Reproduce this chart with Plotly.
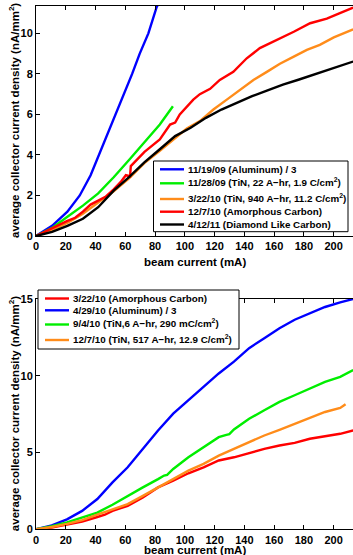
import plotly.graph_objects as go

# ---------------- top chart data ----------------
al1_x = [0, 10.8, 21.1, 29.4, 36.7, 42.3, 48.0, 53.2, 58.9, 64.6, 69.7, 75.5, 81.1, 83.2]
al1_y = [0, 0.5, 1.2, 2.0, 3.0, 4.0, 5.0, 6.0, 7.0, 8.0, 9.0, 10.0, 11.3, 11.6]

tin22_x = [0, 10.8, 21.1, 31.5, 41.8, 52.2, 62.5, 72.8, 83.2, 92.0]
tin22_y = [0, 0.4, 0.95, 1.5, 2.1, 2.9, 3.75, 4.6, 5.5, 6.4]

tin940_x = [0, 10.8, 21.1, 31.5, 41.8, 52.2, 62.5, 72.8, 83.2, 93.5, 101.3, 110.1, 119.2,
            128.2, 137.0, 146.1, 155.1, 163.9, 173.2, 182.0, 190.7, 200.1, 213.1]
tin940_y = [0, 0.3, 0.65, 1.1, 1.65, 2.2, 2.85, 3.6, 4.2, 4.8, 5.3, 5.67, 6.24,
            6.73, 7.2, 7.7, 8.1, 8.5, 8.85, 9.18, 9.43, 9.8, 10.2]

amc1_x = [0, 10.8, 21.1, 26.3, 31.5, 36.7, 41.8, 47.0, 52.2, 57.3, 60.4, 63.2, 63.7, 72.9,
          83.2, 90.1, 93.5, 96.6, 105.7, 110.1, 117.0, 123.5, 132.6, 141.6, 150.4, 161.8,
          173.2, 184.2, 195.4, 204.2, 213.1]
amc1_y = [0, 0.4, 0.75, 0.9, 1.2, 1.55, 1.75, 1.95, 2.3, 2.7, 3.0, 2.95, 3.45, 4.15,
          4.77, 5.5, 5.6, 6.0, 6.73, 7.0, 7.26, 7.7, 8.1, 8.77, 9.27, 9.67,
          10.08, 10.5, 10.73, 11.0, 11.27]

dlc_x = [0, 10.8, 21.1, 31.5, 41.8, 52.2, 62.5, 72.8, 83.2, 93.5, 103.9, 114.2, 124.6,
         134.9, 145.2, 155.6, 165.9, 176.3, 186.6, 197.0, 207.3, 213.1]
dlc_y = [0, 0.2, 0.5, 0.85, 1.42, 2.24, 2.9, 3.63, 4.28, 4.93, 5.34, 5.83, 6.24,
         6.57, 6.9, 7.19, 7.47, 7.71, 7.96, 8.2, 8.45, 8.61]

# ---------------- bottom chart data ----------------
amc2_x = [0, 10.6, 20.8, 31.0, 41.2, 46.3, 51.4, 61.6, 71.8, 82.0, 92.2, 102.4, 112.6,
          122.8, 133.0, 143.2, 153.4, 163.6, 173.8, 184.0, 194.2, 204.4, 213.1]
amc2_y = [0, 0.12, 0.3, 0.5, 0.8, 0.95, 1.2, 1.53, 2.07, 2.73, 3.17, 3.65, 4.04,
          4.48, 4.69, 4.98, 5.24, 5.46, 5.63, 5.9, 6.05, 6.22, 6.44]

al2_x = [0, 10.6, 20.8, 31.0, 41.2, 51.4, 61.6, 71.8, 82.0, 92.2, 102.4, 112.6, 122.8,
         133.0, 143.2, 153.4, 163.6, 173.8, 184.0, 194.2, 204.4, 213.1]
al2_y = [0, 0.25, 0.65, 1.2, 1.97, 3.06, 4.04, 5.24, 6.44, 7.53, 8.4, 9.28, 10.15,
         10.92, 11.8, 12.45, 13.1, 13.65, 14.08, 14.48, 14.78, 15.0]

tin6_x = [0, 10.6, 20.8, 31.0, 41.2, 51.4, 61.6, 71.8, 82.0, 86.1, 88.1, 92.2, 102.4,
          112.6, 122.8, 127.9, 129.9, 133.0, 143.2, 153.4, 163.6, 173.8, 184.0, 194.2,
          204.4, 213.1]
tin6_y = [0, 0.2, 0.45, 0.75, 1.09, 1.6, 2.18, 2.73, 3.27, 3.5, 3.55, 3.93, 4.69,
          5.35, 6.0, 6.15, 6.2, 6.5, 7.2, 7.75, 8.3, 8.73, 9.17, 9.6,
          9.93, 10.37]

tin517_x = [0, 10.6, 20.8, 31.0, 41.2, 51.4, 61.6, 71.8, 82.0, 92.2, 102.4, 112.6, 122.8,
            133.0, 143.2, 153.4, 163.6, 173.8, 184.0, 194.2, 204.4, 208.0]
tin517_y = [0, 0.15, 0.35, 0.6, 0.95, 1.3, 1.64, 2.18, 2.73, 3.27, 3.82, 4.26, 4.8,
            5.24, 5.68, 6.11, 6.48, 6.88, 7.27, 7.64, 7.9, 8.14]

top_names = ["11/19/09 (Aluminum) / 3",
             "11/28/09 (TiN, 22 A\u2212hr, 1.9 C/cm<sup>2</sup>)",
             "3/22/10 (TiN, 940 A\u2212hr, 11.2 C/cm<sup>2</sup>)",
             "12/7/10 (Amorphous Carbon)",
             "4/12/11 (Diamond Like Carbon)"]
bot_names = ["3/22/10 (Amorphous Carbon)",
             "4/29/10 (Aluminum) / 3",
             "9/4/10 (TiN,6 A\u2212hr, 290 mC/cm<sup>2</sup>)",
             "12/7/10 (TiN, 517 A\u2212hr, 12.9 C/cm<sup>2</sup>)"]

x_ticks = [0, 20, 40, 60, 80, 100, 120, 140, 160, 180, 200]
top_yticks = [0, 2, 4, 6, 8, 10]
bot_yticks = [0, 5, 10, 15]
x_title = "beam current (mA)"
y_title = "average collector current density (nA/mm<sup>2</sup>)"

BLUE, GREEN, ORANGE, RED, BLACK = "#0000ff", "#00ee00", "#ff8c1a", "#ff0000", "#000000"
LW = 2.4
W, H = 353, 555

fig = go.Figure()
top_series = [(al1_x, al1_y, BLUE), (tin22_x, tin22_y, GREEN), (tin940_x, tin940_y, ORANGE),
              (amc1_x, amc1_y, RED), (dlc_x, dlc_y, BLACK)]
for (xs, ys, c), n in zip(top_series, top_names):
    fig.add_trace(go.Scatter(x=xs, y=ys, mode="lines", name=n, line=dict(color=c, width=LW),
                             xaxis="x", yaxis="y", showlegend=False, hoverinfo="skip"))
bot_series = [(amc2_x, amc2_y, RED), (al2_x, al2_y, BLUE), (tin6_x, tin6_y, GREEN),
              (tin517_x, tin517_y, ORANGE)]
for (xs, ys, c), n in zip(bot_series, bot_names):
    fig.add_trace(go.Scatter(x=xs, y=ys, mode="lines", name=n, line=dict(color=c, width=LW),
                             xaxis="x2", yaxis="y2", showlegend=False, hoverinfo="skip"))

FONT = "Liberation Sans, Arial, sans-serif"
tickfont = dict(family=FONT, size=11, color="black", weight="bold")
titlefont = dict(family=FONT, size=11.5, color="black", weight="bold")
legfont = dict(family=FONT, size=9.8, color="black", weight="bold")

XD = [36 / W, 1.0]
TOPD = [1 - 236 / H, 1 - 6 / H]
BOTD = [1 - 529.3 / H, 1 - 299 / H]

def px(x):
    return x / W

def py(y):
    return 1 - y / H

def xax(anchor):
    return dict(domain=XD, anchor=anchor, range=[0, 213], tickvals=x_ticks,
                ticks="inside", ticklen=4, tickcolor="black", showline=True, linecolor="black",
                linewidth=1, mirror="ticks", showgrid=False, zeroline=False, tickfont=tickfont,
                automargin=False)

def yax(anchor, domain, rng, ticks):
    return dict(domain=domain, anchor=anchor, range=rng, tickvals=ticks, ticks="inside",
                ticklen=4, tickcolor="black", showline=True, linecolor="black", linewidth=1,
                showgrid=False, zeroline=False, tickfont=tickfont, automargin=False)

annotations = []
shapes = []
for ty, yc in [(262, (6 + 236) / 2), (549.5, (299 + 529.3) / 2)]:
    annotations.append(dict(text=x_title, x=px((36 + W) / 2), y=py(ty), xref="paper",
                            yref="paper", showarrow=False, font=titlefont,
                            xanchor="center", yanchor="middle"))
    annotations.append(dict(text=y_title, x=px(14), y=py(yc), xref="paper", yref="paper",
                            showarrow=False, font=titlefont, textangle=-90,
                            xanchor="center", yanchor="middle"))

# hand-built legends (box, line samples, labels) -- layout positions in pixels
legends = [
    dict(box=(153.5, 161, 348, 231.7), lx=(160, 184), tx=187,
         rows=[169.3, 183.3, 199.0, 211.7, 224.5],
         names=top_names, colors=[s[2] for s in top_series]),
    dict(box=(38, 290, 239, 349), lx=(45, 69), tx=72,
         rows=[298.5, 310.3, 324.5, 340.0],
         names=bot_names, colors=[s[2] for s in bot_series]),
]
for lg in legends:
    x0, y0, x1, y1 = lg["box"]
    shapes.append(dict(type="rect", xref="paper", yref="paper", x0=px(x0), x1=px(x1),
                       y0=py(y0), y1=py(y1), line=dict(color="black", width=1),
                       fillcolor="white", layer="above"))
    for ry, name, col in zip(lg["rows"], lg["names"], lg["colors"]):
        shapes.append(dict(type="line", xref="paper", yref="paper", x0=px(lg["lx"][0]),
                           x1=px(lg["lx"][1]), y0=py(ry), y1=py(ry),
                           line=dict(color=col, width=LW), layer="above"))
        annotations.append(dict(text=name, x=px(lg["tx"]), y=py(ry), xref="paper",
                                yref="paper", showarrow=False, font=legfont,
                                xanchor="left", yanchor="middle", xshift=-1,
                                yshift=(1.5 if "<sup>" in name else 0)))

fig.update_layout(
    width=W, height=H, margin=dict(l=0, r=0, t=0, b=0, autoexpand=False),
    paper_bgcolor="white", plot_bgcolor="white",
    xaxis=xax("y"), yaxis=yax("x", TOPD, [0, 11.35], top_yticks),
    xaxis2=xax("y2"), yaxis2=yax("x2", BOTD, [0, 15], bot_yticks),
    annotations=annotations, shapes=shapes,
    showlegend=False, hovermode=False,
)

fig.write_html("out.html", config={"displayModeBar": False, "staticPlot": True},
               post_script="document.body.style.margin='0';document.body.style.overflow='hidden';")
